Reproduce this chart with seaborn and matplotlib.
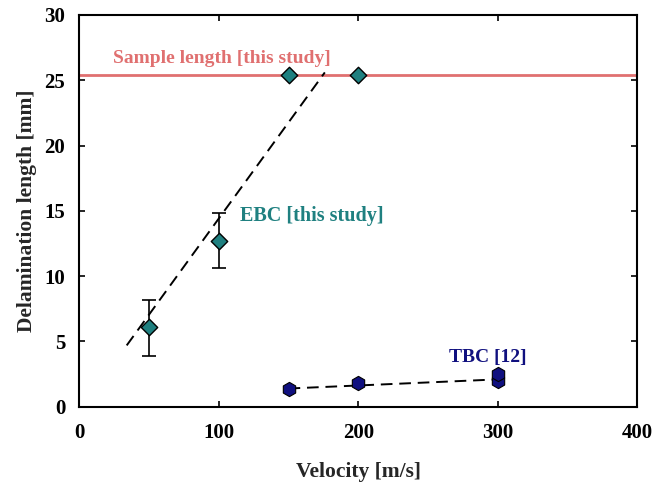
import numpy as np
import seaborn as sns
import matplotlib.pyplot as plt

# EBC (this study)
ebc_velocity = [50, 100, 150, 200]
ebc_length = [6.1, 12.7, 25.4, 25.4]
ebc_err_low = [2.2, 2.1, 0, 0]
ebc_err_high = [2.1, 2.1, 0, 0]
ebc_fit_x = [34, 176]
ebc_fit_y = [4.7, 25.6]

# TBC [12]
tbc_velocity = [150, 200, 300, 300]
tbc_length = [1.35, 1.8, 1.95, 2.5]
tbc_fit_x = [150, 300]
tbc_fit_y = [1.4, 2.1]

sample_length = 25.4

sns.set_theme(style='ticks')
plt.rcParams['font.family'] = ['Liberation Serif', 'DejaVu Serif']
plt.rcParams['font.weight'] = 'bold'

fig = plt.figure(figsize=(6.66, 4.82), dpi=100)
ax = fig.add_axes([0.119, 0.156, 0.838, 0.813])

teal = '#1f8080'
navy = '#10107f'
red = '#e07070'

ax.axhline(sample_length, color=red, lw=2, zorder=1)
ax.plot(ebc_fit_x, ebc_fit_y, color='black', ls=(0, (6, 3.5)), lw=1.4, zorder=2)
ax.plot(tbc_fit_x, tbc_fit_y, color='black', ls=(0, (6, 3.5)), lw=1.4, zorder=2)

ax.errorbar(ebc_velocity[:2], ebc_length[:2],
            yerr=[ebc_err_low[:2], ebc_err_high[:2]],
            fmt='none', ecolor='black', elinewidth=1.2, capsize=5, capthick=1.2, zorder=3)
sns.scatterplot(x=ebc_velocity, y=ebc_length, marker='D', s=70, color=teal,
                edgecolor='black', linewidth=1, ax=ax, zorder=4)
sns.scatterplot(x=tbc_velocity, y=tbc_length, marker='h', s=105, color=navy,
                edgecolor='black', linewidth=0.8, ax=ax, zorder=4)

ax.text(24, 26.3, 'Sample length [this study]', color=red, fontsize=14, fontweight='bold')
ax.text(115, 14.2, 'EBC [this study]', color=teal, fontsize=14.5, fontweight='bold')
ax.text(265, 3.4, 'TBC [12]', color=navy, fontsize=14, fontweight='bold')

ax.set_xlim(0, 400)
ax.set_ylim(0, 30)
ax.set_xticks([0, 100, 200, 300, 400])
ax.set_yticks([0, 5, 10, 15, 20, 25, 30])
ax.tick_params(direction='in', top=True, right=True, length=4, width=1.2,
               labelsize=15, colors='black')
ax.tick_params(axis='x', pad=12)
ax.tick_params(axis='y', pad=10)
for lab in ax.get_xticklabels() + ax.get_yticklabels():
    lab.set_fontweight('bold')
for sp in ax.spines.values():
    sp.set_visible(True)
    sp.set_linewidth(1.5)
    sp.set_color('black')

ax.set_xlabel('Velocity [m/s]', fontsize=15.5, fontweight='bold', labelpad=13)
ax.set_ylabel('Delamination length [mm]', fontsize=15.5, fontweight='bold')
ax.yaxis.set_label_coords(-0.075, 0.5)

fig.savefig('out.png', dpi=100)
